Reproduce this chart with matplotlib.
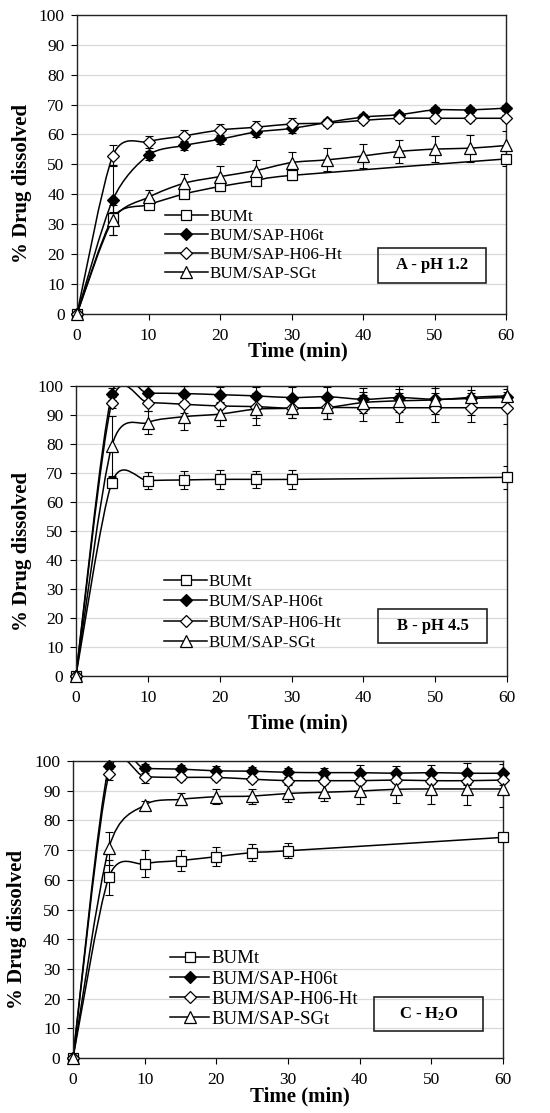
import numpy as np
import matplotlib.pyplot as plt
from matplotlib.path import Path
from matplotlib.patches import PathPatch, Rectangle

plt.rcParams['font.family'] = ['Liberation Serif', 'DejaVu Serif']
plt.rcParams['mathtext.fontset'] = 'custom'
plt.rcParams['mathtext.rm'] = 'Liberation Serif:bold'
plt.rcParams['mathtext.default'] = 'rm'

labels = ['BUMt', 'BUM/SAP-H06t', 'BUM/SAP-H06-Ht', 'BUM/SAP-SGt']
t_short = [0, 5, 10, 15, 20, 25, 30, 60]
t_long = [0, 5, 10, 15, 20, 25, 30, 35, 40, 45, 50, 55, 60]

# panel A - pH 1.2
a_bum = [0, 32, 36.5, 40.1, 42.6, 44.5, 46.3, 51.8]
a_bum_err = [0, 2, 1.5, 1.5, 1.5, 1.5, 1.5, 2.5]
a_h06 = [0, 38.1, 53.1, 56.3, 58.4, 60.8, 62.0, 64.0, 65.8, 66.6, 68.2, 68.2, 68.8]
a_h06_err = [0, 11.7, 1.5, 1.5, 1.5, 1.5, 1.5, 1, 1, 1, 1, 1, 1]
a_h06h = [0, 52.8, 57.6, 59.5, 61.5, 62.4, 63.5, 63.8, 64.7, 65.4, 65.4, 65.4, 65.4]
a_h06h_err = [0, 3.5, 2, 2, 2, 2, 2, 1, 1, 1, 1, 1, 1]
a_sg = [0, 31.4, 39.0, 43.7, 45.9, 47.9, 50.6, 51.5, 52.8, 54.3, 55.1, 55.4, 56.3]
a_sg_err = [0, 5, 2.5, 3, 3.5, 3.5, 3.5, 3.8, 4, 4, 4.3, 4.5, 5]

# panel B - pH 4.5
b_bum = [0, 66.7, 67.4, 67.6, 67.8, 67.8, 67.8, 68.5]
b_bum_err = [0, 2, 3, 3, 3.3, 2.8, 3.2, 4]
b_h06 = [0, 97.2, 97.5, 97.4, 97.0, 96.6, 96.0, 96.3, 95.4, 96.0, 95.4, 95.7, 96.1]
b_h06_err = [0, 2, 2.5, 2.5, 2.5, 3, 3.5, 3.5, 4, 4, 4, 3, 3]
b_h06h = [0, 94.3, 94.3, 93.7, 93.1, 92.9, 92.3, 92.6, 92.5, 92.5, 92.5, 92.5, 92.5]
b_h06h_err = [0, 2, 3, 3, 3, 4, 3.5, 4, 4.5, 5, 5, 5, 5.5]
b_sg = [0, 79.3, 87.4, 89.4, 90.3, 92.0, 92.3, 92.6, 94.3, 94.9, 95.2, 96.1, 96.6]
b_sg_err = [0, 10.5, 4, 4.5, 4, 5.5, 3.5, 4, 3.5, 4, 5, 6, 5]

# panel C - H2O
c_bum = [0, 60.8, 65.4, 66.5, 67.8, 69.2, 69.8, 74.3]
c_bum_err = [0, 6, 4.5, 3.5, 3.2, 3, 2.5, 1]
c_h06 = [0, 98.3, 97.5, 97.3, 96.7, 96.6, 96.2, 96.1, 96.1, 95.9, 96.1, 95.9, 95.9]
c_h06_err = [0, 1, 1.5, 1.5, 1.8, 1.5, 1.5, 1.5, 2.5, 2.5, 2.5, 3.5, 3]
c_h06h = [0, 95.5, 94.7, 94.5, 94.5, 93.9, 93.4, 93.4, 93.4, 93.6, 93.4, 93.4, 93.6]
c_h06h_err = [0, 2, 2, 1, 1, 1, 1, 1, 1, 1, 1, 1.5, 1.5]
c_sg = [0, 70.6, 85.2, 87.1, 88.0, 88.2, 89.1, 89.5, 89.9, 90.5, 90.6, 90.6, 90.6]
c_sg_err = [0, 5.5, 1.5, 2, 2.5, 2.5, 3, 3, 4.5, 4.5, 5, 5.5, 6]


def smooth_line(ax, x, y, f=0.14):
    # excel-like smoothed line: bezier segments through the points
    x = np.asarray(x, float)
    y = np.asarray(y, float)
    n = len(x)
    verts = [(x[0], y[0])]
    codes = [Path.MOVETO]
    for i in range(n - 1):
        i0 = max(i - 1, 0)
        i3 = min(i + 2, n - 1)
        c1 = (x[i] + (x[i + 1] - x[i0]) * f, y[i] + (y[i + 1] - y[i0]) * f)
        c2 = (x[i + 1] - (x[i3] - x[i]) * f, y[i + 1] - (y[i3] - y[i]) * f)
        verts += [c1, c2, (x[i + 1], y[i + 1])]
        codes += [Path.CURVE4] * 3
    ax.add_patch(PathPatch(Path(verts, codes), fill=False, lw=1.1,
                           edgecolor='black', zorder=2))


styles = [dict(marker='s', ms=7.5, mfc='white'),
          dict(marker='D', ms=6.5, mfc='black'),
          dict(marker='D', ms=6.5, mfc='white'),
          dict(marker='^', ms=8.5, mfc='white')]

fig = plt.figure(figsize=(5.5, 11.13), dpi=100)

# rect, series, tag, tag_y, legend anchor, legend size, spacing, handle length,
# ylabel pos, xlabel pos
panels = [
    ([0.140, 0.718, 0.780, 0.2687],
     [(t_short, a_bum, a_bum_err), (t_long, a_h06, a_h06_err),
      (t_long, a_h06h, a_h06h_err), (t_long, a_sg, a_sg_err)],
     'A - pH 1.2', 0.162, (0.205, 0.35), 12.3, 0.17, 2.5,
     (-0.129, 0.436), (0.514, -0.127)),
    ([0.138, 0.3926, 0.784, 0.2606],
     [(t_short, b_bum, b_bum_err), (t_long, b_h06, b_h06_err),
      (t_long, b_h06h, b_h06h_err), (t_long, b_sg, b_sg_err)],
     'B - pH 4.5', 0.173, (0.205, 0.353), 12.3, 0.265, 2.5,
     (-0.126, 0.431), (0.514, -0.162)),
    ([0.1327, 0.0494, 0.782, 0.2668],
     [(t_short, c_bum, c_bum_err), (t_long, c_h06, c_h06_err),
      (t_long, c_h06h, c_h06h_err), (t_long, c_sg, c_sg_err)],
     'C - H$_2$O', 0.148, (0.225, 0.363), 13.6, 0.15, 2.1,
     (-0.131, 0.434), (0.528, -0.131)),
]

for rect, series, tag, tag_y, leg_xy, leg_fs, leg_sp, leg_hl, ylab, xlab in panels:
    ax = fig.add_axes(rect)
    handles = []
    for (x, y, e), st, lab in zip(series, styles, labels):
        ax.errorbar(x, y, yerr=e, fmt='none', ecolor='black', elinewidth=0.8,
                    capsize=3, capthick=0.8, zorder=3)
        smooth_line(ax, x, y)
        ax.plot(x, y, ls='none', color='black', mec='black', mew=0.9,
                zorder=4, clip_on=False, **st)
        handles.append(ax.plot([], [], color='black', lw=1.1, mec='black',
                               mew=0.9, **st)[0])
    ax.set_xlim(0, 60)
    ax.set_ylim(0, 100)
    ax.set_xticks(range(0, 61, 10))
    ax.set_yticks(range(0, 101, 10))
    ax.yaxis.grid(True, color='#d9d9d9', lw=0.9)
    ax.set_axisbelow(True)
    ax.tick_params(labelsize=12.5, length=4, width=0.8, direction='out')
    ax.tick_params(axis='x', pad=6)
    ax.tick_params(axis='y', pad=5)
    for s in ax.spines.values():
        s.set_linewidth(1.0)
        s.set_color('#222222')
    ax.set_xlabel('Time (min)', fontsize=15, fontweight='bold', va='center')
    ax.set_ylabel('% Drug dissolved', fontsize=15, fontweight='bold', va='center')
    ax.xaxis.set_label_coords(*xlab)
    ax.yaxis.set_label_coords(*ylab)
    ax.legend(handles, labels, loc='upper left', bbox_to_anchor=leg_xy,
              frameon=False, fontsize=leg_fs, handlelength=leg_hl,
              handletextpad=0.1, labelspacing=leg_sp, borderpad=0,
              borderaxespad=0)
    ax.add_patch(Rectangle((0.827 - 0.126, tag_y - 0.058), 0.252, 0.117,
                           transform=ax.transAxes, fill=False, lw=1.2,
                           edgecolor='#222222', zorder=5))
    ax.text(0.827, tag_y, tag, transform=ax.transAxes, ha='center', va='center',
            fontsize=12, fontweight='bold', zorder=6)

fig.savefig('out.png', dpi=100)
